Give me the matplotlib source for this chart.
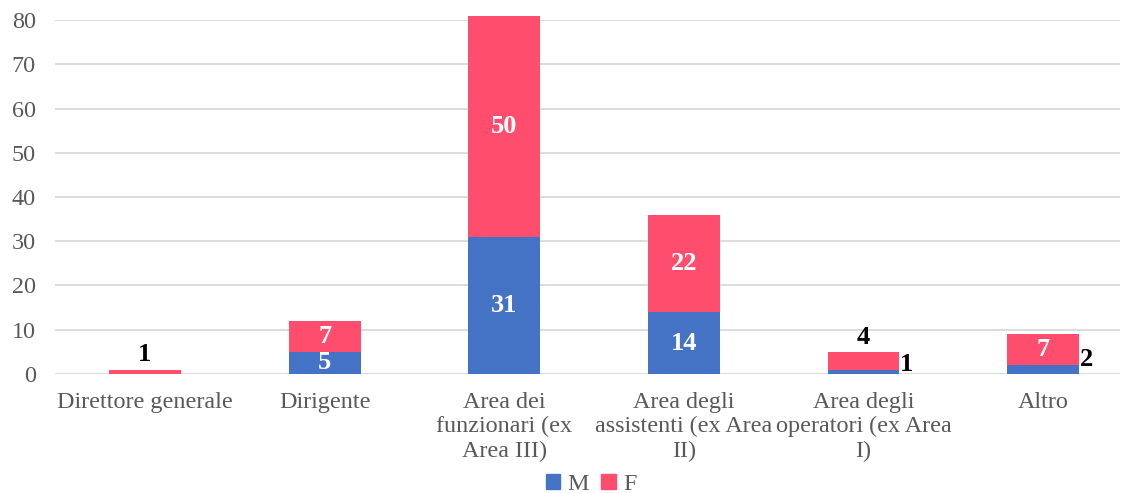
import numpy as np
import matplotlib.pyplot as plt
from matplotlib.patches import Patch

categorie = ["Direttore generale", "Dirigente", "Area dei\nfunzionari (ex\nArea III)",
             "Area degli\nassistenti (ex Area\nII)", "Area degli\noperatori (ex Area\nI)", "Altro"]
maschi = [0, 5, 31, 14, 1, 2]
femmine = [1, 7, 50, 22, 4, 7]

blu = "#4472C4"
rosa = "#FF4D6E"

plt.rcParams['font.family'] = ['Liberation Serif', 'DejaVu Serif']

fig = plt.figure(figsize=(11.26, 4.93), dpi=100)
ax = fig.add_axes([0.049, 0.2414, 0.946, 0.718])

x = np.arange(len(categorie))
w = 0.4
ax.bar(x, maschi, w, color=blu, zorder=3, clip_on=False)
ax.bar(x, femmine, w, bottom=maschi, color=rosa, zorder=3, clip_on=False)

fs = 17.4
fl = 19
for i in range(len(x)):
    m, f = maschi[i], femmine[i]
    # etichette M
    if m >= 4:
        ax.text(x[i], m / 2, str(m), ha='center', va='center', color='white',
                fontsize=fl, fontweight='bold', zorder=4)
    elif m > 0:
        ax.text(x[i] + w / 2 + 0.005, m + 1.2, str(m), ha='left', va='center', color='black',
                fontsize=fl, fontweight='bold', zorder=4)
    # etichette F
    if f >= 6:
        ax.text(x[i], m + f / 2, str(f), ha='center', va='center', color='white',
                fontsize=fl, fontweight='bold', zorder=4)
    else:
        ax.text(x[i], m + f + 0.7, str(f), ha='center', va='bottom', color='black',
                fontsize=fl, fontweight='bold', zorder=4)

ax.set_xlim(-0.5, 5.43)
ax.set_ylim(0, 80)
ax.set_yticks(range(0, 81, 10))
ax.set_xticks(x)
ax.set_xticklabels(categorie, fontsize=fs, color='#595959', linespacing=1.2)
ax.tick_params(axis='y', labelsize=fs, labelcolor='#595959', length=0, pad=14)
ax.tick_params(axis='x', length=0, pad=13)
ax.grid(axis='y', color='#D9D9D9', linewidth=1.3, zorder=0)
for s in ax.spines.values():
    s.set_visible(False)

handles = [Patch(color=blu, label='M'), Patch(color=rosa, label='F')]
fig.legend(handles=handles, loc='center', bbox_to_anchor=(0.525, 0.018), ncol=2,
           frameon=False, fontsize=fs, handlelength=0.6, handleheight=0.6,
           handletextpad=0.3, columnspacing=0.5, labelcolor='#595959')

fig.savefig("out.png", dpi=100)
